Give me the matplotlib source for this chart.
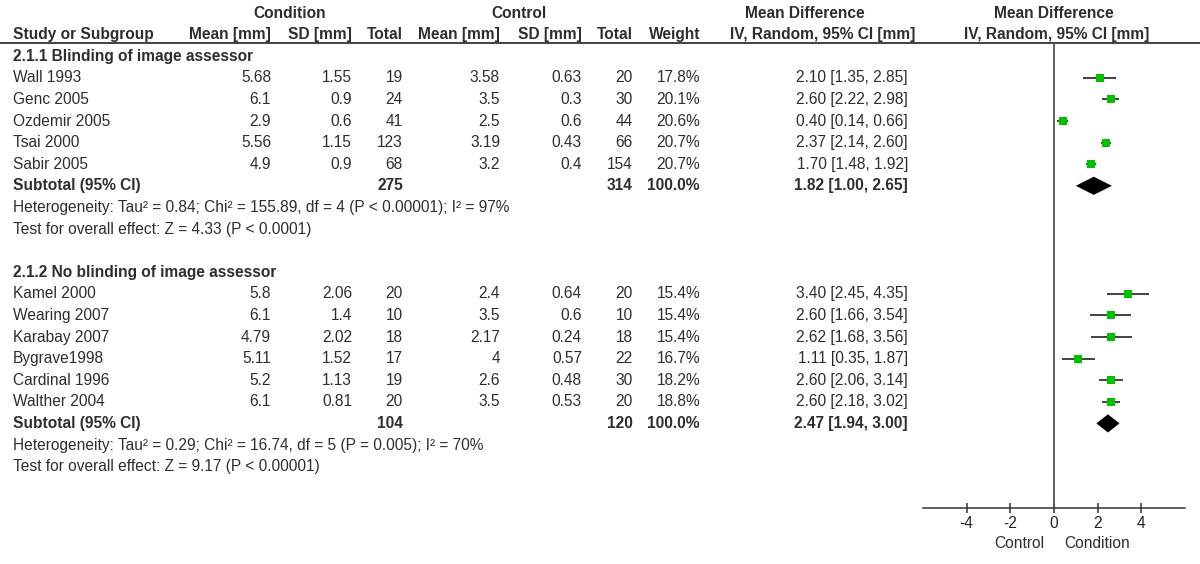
import matplotlib
matplotlib.use("Agg")
import matplotlib.pyplot as plt
from matplotlib.patches import Polygon
import numpy as np

plt.rcParams['font.family'] = ['Liberation Sans', 'DejaVu Sans']

# ---- data: subgroup 1 ----
g1_title = "2.1.1 Blinding of image assessor"
g1_studies = ["Wall 1993", "Genc 2005", "Ozdemir 2005", "Tsai 2000", "Sabir 2005"]
g1_cond_mean = [5.68, 6.1, 2.9, 5.56, 4.9]
g1_cond_sd = [1.55, 0.9, 0.6, 1.15, 0.9]
g1_cond_n = [19, 24, 41, 123, 68]
g1_ctrl_mean = [3.58, 3.5, 2.5, 3.19, 3.2]
g1_ctrl_sd = [0.63, 0.3, 0.6, 0.43, 0.4]
g1_ctrl_n = [20, 30, 44, 66, 154]
g1_weight = [17.8, 20.1, 20.6, 20.7, 20.7]
g1_md = [2.10, 2.60, 0.40, 2.37, 1.70]
g1_lo = [1.35, 2.22, 0.14, 2.14, 1.48]
g1_hi = [2.85, 2.98, 0.66, 2.60, 1.92]
g1_total = [275, 314]
g1_pooled = [1.82, 1.00, 2.65]
g1_het = "Heterogeneity: Tau² = 0.84; Chi² = 155.89, df = 4 (P < 0.00001); I² = 97%"
g1_test = "Test for overall effect: Z = 4.33 (P < 0.0001)"

# ---- data: subgroup 2 ----
g2_title = "2.1.2 No blinding of image assessor"
g2_studies = ["Kamel 2000", "Wearing 2007", "Karabay 2007", "Bygrave1998",
              "Cardinal 1996", "Walther 2004"]
g2_cond_mean = [5.8, 6.1, 4.79, 5.11, 5.2, 6.1]
g2_cond_sd = [2.06, 1.4, 2.02, 1.52, 1.13, 0.81]
g2_cond_n = [20, 10, 18, 17, 19, 20]
g2_ctrl_mean = [2.4, 3.5, 2.17, 4, 2.6, 3.5]
g2_ctrl_sd = [0.64, 0.6, 0.24, 0.57, 0.48, 0.53]
g2_ctrl_n = [20, 10, 18, 22, 30, 20]
g2_weight = [15.4, 15.4, 15.4, 16.7, 18.2, 18.8]
g2_md = [3.40, 2.60, 2.62, 1.11, 2.60, 2.60]
g2_lo = [2.45, 1.66, 1.68, 0.35, 2.06, 2.18]
g2_hi = [4.35, 3.54, 3.56, 1.87, 3.14, 3.02]
g2_total = [104, 120]
g2_pooled = [2.47, 1.94, 3.00]
g2_het = "Heterogeneity: Tau² = 0.29; Chi² = 16.74, df = 5 (P = 0.005); I² = 70%"
g2_test = "Test for overall effect: Z = 9.17 (P < 0.00001)"

xticks = [-4, -2, 0, 2, 4]

# ---- layout (pixels) ----
W, H = 1200, 564
ROW0, ROW_H = 13, 21.6
FS = 11.2
TXT = "#2e2e2e"
col_right = [271, 352, 403, 500, 582, 633, 700, 908]   # numeric columns
X_LEFT = 13

fig = plt.figure(figsize=(W / 100, H / 100), dpi=100)
ax = fig.add_axes([0, 0, 1, 1])
ax.set_xlim(0, W)
ax.set_ylim(H, 0)
ax.axis("off")


def put(x, row, s, ha="left", bold=False):
    ax.text(x, ROW0 + ROW_H * row + 4.6, s, ha=ha, va="baseline", fontsize=FS,
            color=TXT, fontweight="bold" if bold else "normal")


# headers
put(290, 0, "Condition", ha="center", bold=True)
put(519, 0, "Control", ha="center", bold=True)
put(805, 0, "Mean Difference", ha="center", bold=True)
put(1054, 0, "Mean Difference", ha="center", bold=True)
put(X_LEFT, 1, "Study or Subgroup", bold=True)
hdr = ["Mean [mm]", "SD [mm]", "Total", "Mean [mm]", "SD [mm]", "Total", "Weight"]
for x, s in zip(col_right, hdr):
    put(x, 1, s, ha="right", bold=True)
put(915, 1, "IV, Random, 95% CI [mm]", ha="right", bold=True)
put(1057, 1, "IV, Random, 95% CI [mm]", ha="center", bold=True)
ax.plot([0, W], [43, 43], color="#333333", lw=1.3, solid_capstyle="butt")

# forest axes
top_px, bot_px = 43, 508
fx = fig.add_axes([923 / W, (H - bot_px) / H, 262 / W, (bot_px - top_px) / H])
fx.set_facecolor("none")
fx.set_xlim(-6, 6)
fx.set_ylim((bot_px - ROW0) / ROW_H, (top_px - ROW0) / ROW_H)
for s in ["top", "left", "right"]:
    fx.spines[s].set_visible(False)
fx.spines["bottom"].set_color("#333333")
fx.spines["bottom"].set_linewidth(1.1)
fx.set_yticks([])
fx.set_xticks(xticks)
fx.set_xticklabels([str(t) for t in xticks])
fx.tick_params(axis="x", direction="inout", length=7.5, width=1.1, color="#333333",
               labelsize=FS, labelcolor="#222222", pad=2)
fx.axvline(0, color="#555555", lw=1.3)


def group(start, title, studies, cm, cs, cn, km, ks, kn, w, md, lo, hi, tot, pooled, het, test):
    put(X_LEFT, start, title, bold=True)
    rows = np.arange(len(studies)) + start + 1
    for i, r in enumerate(rows):
        put(X_LEFT, r, studies[i])
        vals = [f"{cm[i]:g}", f"{cs[i]:g}", str(cn[i]), f"{km[i]:g}", f"{ks[i]:g}",
                str(kn[i]), f"{w[i]:.1f}%", f"{md[i]:.2f} [{lo[i]:.2f}, {hi[i]:.2f}]"]
        for x, s in zip(col_right, vals):
            put(x, r, s, ha="right")
    fx.hlines(rows, lo, hi, color="#222222", lw=1.2)
    for i, r in enumerate(rows):
        fx.plot(md[i], r, "s", color="#00c000", mew=0, ms=5.8 * np.sqrt(w[i] / 20))
    sr = rows[-1] + 1
    put(X_LEFT, sr, "Subtotal (95% CI)", bold=True)
    put(col_right[2], sr, str(tot[0]), ha="right", bold=True)
    put(col_right[5], sr, str(tot[1]), ha="right", bold=True)
    put(col_right[6], sr, "100.0%", ha="right", bold=True)
    put(col_right[7], sr, f"{pooled[0]:.2f} [{pooled[1]:.2f}, {pooled[2]:.2f}]",
        ha="right", bold=True)
    h = 0.42
    fx.add_patch(Polygon([(pooled[1], sr), (pooled[0], sr - h), (pooled[2], sr),
                          (pooled[0], sr + h)], closed=True, color="black", lw=0))
    put(X_LEFT, sr + 1, het)
    put(X_LEFT, sr + 2, test)
    return sr + 2


end1 = group(2, g1_title, g1_studies, g1_cond_mean, g1_cond_sd, g1_cond_n,
             g1_ctrl_mean, g1_ctrl_sd, g1_ctrl_n, g1_weight, g1_md, g1_lo, g1_hi,
             g1_total, g1_pooled, g1_het, g1_test)
group(end1 + 2, g2_title, g2_studies, g2_cond_mean, g2_cond_sd, g2_cond_n,
      g2_ctrl_mean, g2_ctrl_sd, g2_ctrl_n, g2_weight, g2_md, g2_lo, g2_hi,
      g2_total, g2_pooled, g2_het, g2_test)

ax.text(1019, 543, "Control", ha="center", va="center", fontsize=FS, color=TXT)
ax.text(1097, 543, "Condition", ha="center", va="center", fontsize=FS, color=TXT)

fig.savefig("out.png", dpi=100)
